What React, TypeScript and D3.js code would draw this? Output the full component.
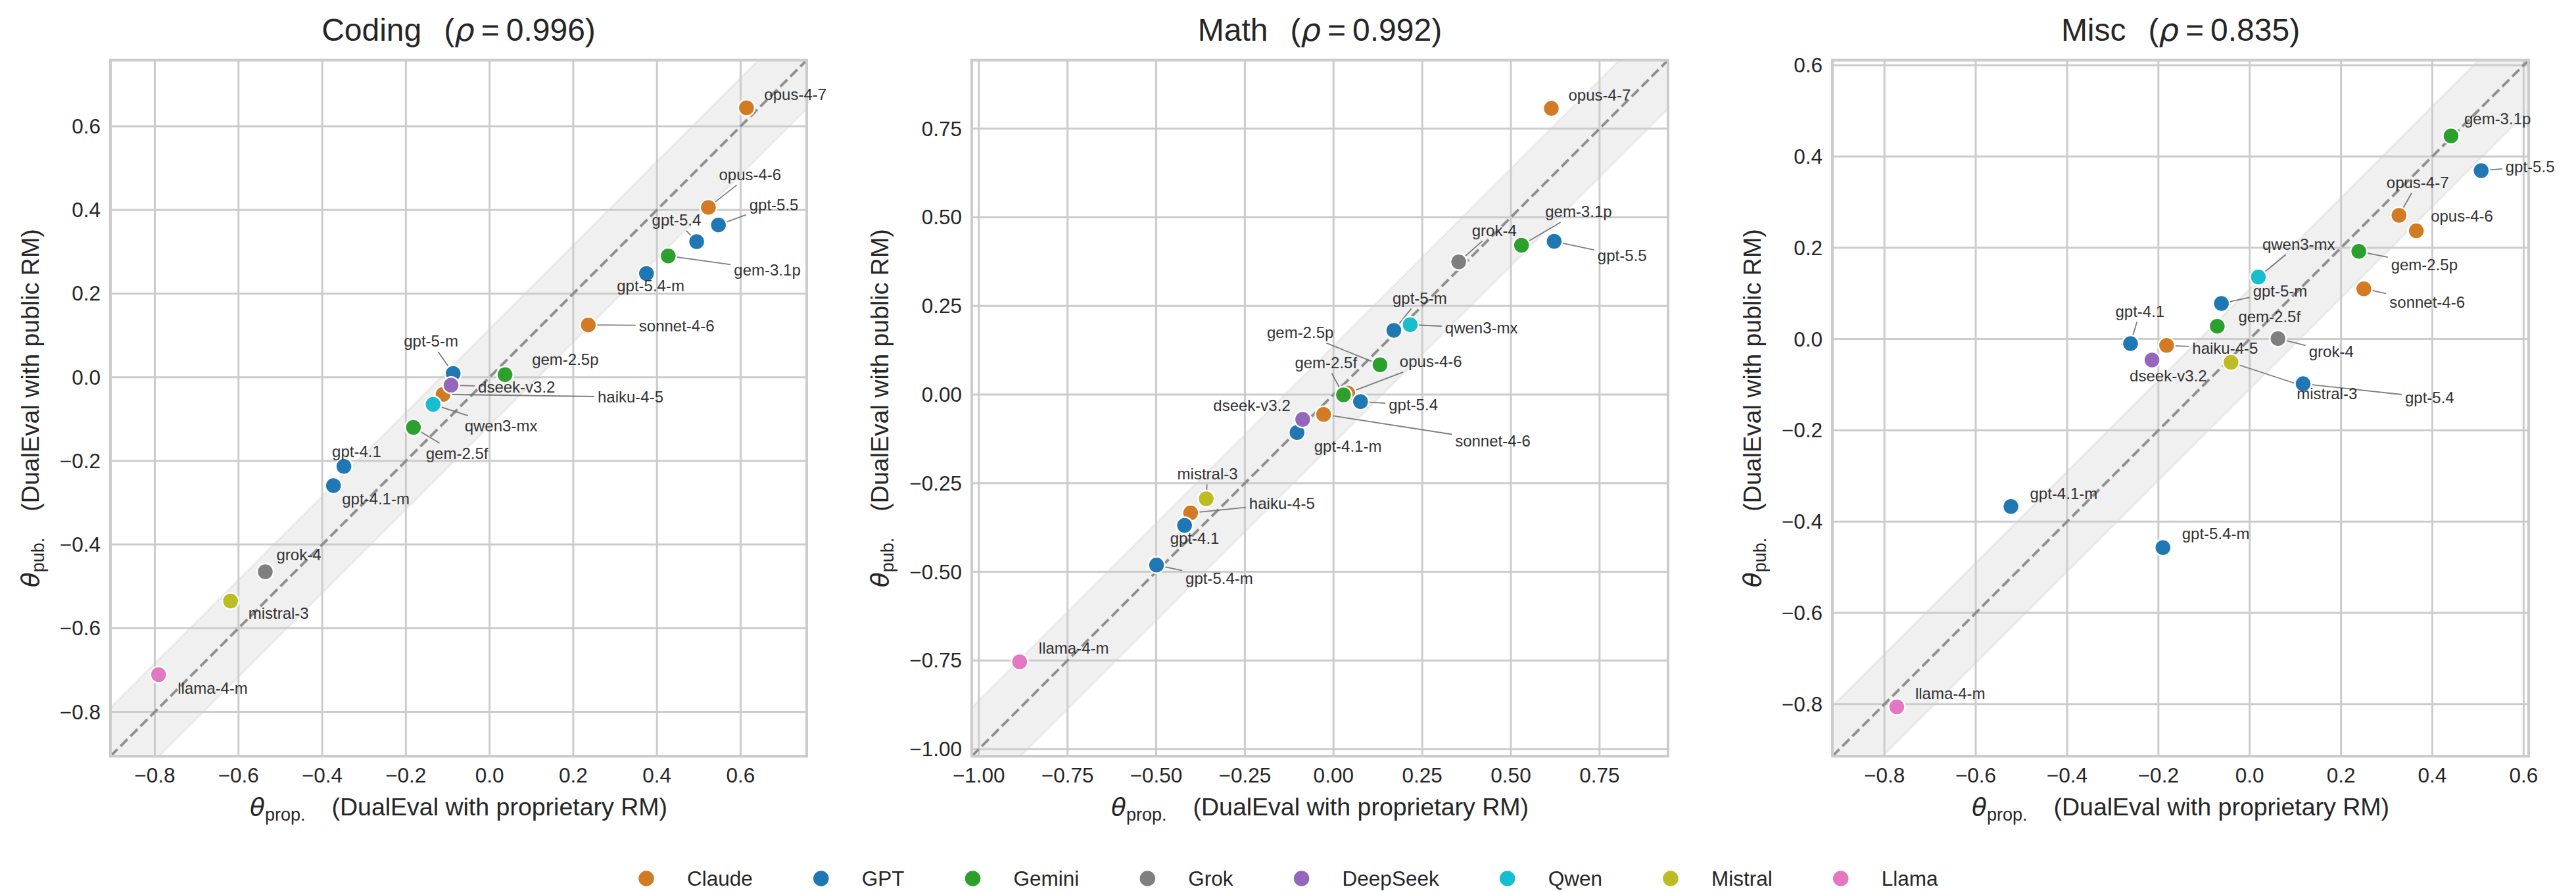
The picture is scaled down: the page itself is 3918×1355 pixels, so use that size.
import React from "react";
import * as d3 from "d3";

// ---- data ----
const FAMILIES = ["Claude", "GPT", "Gemini", "Grok", "DeepSeek", "Qwen", "Mistral", "Llama"];
const FAMILY_COLORS = ["#d37a25", "#1f77b4", "#2ca02c", "#7f7f7f", "#9467bd", "#17becf", "#bcbd22", "#e377c2"];

const MODELS = [
  "opus-4-7", "opus-4-6", "sonnet-4-6", "haiku-4-5",
  "gpt-5.5", "gpt-5.4", "gpt-5.4-m", "gpt-5-m", "gpt-4.1", "gpt-4.1-m",
  "gem-3.1p", "gem-2.5p", "gem-2.5f",
  "grok-4", "dseek-v3.2", "qwen3-mx", "mistral-3", "llama-4-m",
];
const MODEL_FAMILY = [
  "Claude", "Claude", "Claude", "Claude",
  "GPT", "GPT", "GPT", "GPT", "GPT", "GPT",
  "Gemini", "Gemini", "Gemini",
  "Grok", "DeepSeek", "Qwen", "Mistral", "Llama",
];

const PANEL_TITLES = ["Coding", "Math", "Misc"];
const PANEL_RHO = ["0.996", "0.992", "0.835"];

// theta_prop (x) and theta_pub (y), same order as MODELS
const CODING_PROP = [0.614, 0.523, 0.236, -0.111, 0.547, 0.495, 0.375, -0.087, -0.348, -0.373, 0.427, 0.037, -0.182, -0.536, -0.092, -0.135, -0.619, -0.791];
const CODING_PUB = [0.644, 0.406, 0.125, -0.041, 0.364, 0.324, 0.248, 0.009, -0.213, -0.259, 0.290, 0.006, -0.120, -0.465, -0.019, -0.065, -0.535, -0.711];
const MATH_PROP = [0.614, 0.040, -0.028, -0.403, 0.622, 0.076, -0.499, 0.170, -0.420, -0.103, 0.530, 0.131, 0.028, 0.353, -0.087, 0.216, -0.359, -0.885];
const MATH_PUB = [0.807, 0.004, -0.056, -0.334, 0.432, -0.020, -0.481, 0.181, -0.369, -0.107, 0.421, 0.084, -0.001, 0.374, -0.070, 0.197, -0.294, -0.754];
const MISC_PROP = [0.327, 0.365, 0.250, -0.182, 0.507, 0.117, -0.190, -0.062, -0.261, -0.523, 0.441, 0.239, -0.071, 0.062, -0.214, 0.019, -0.041, -0.773];
const MISC_PUB = [0.271, 0.237, 0.110, -0.014, 0.369, -0.098, -0.457, 0.078, -0.010, -0.367, 0.445, 0.192, 0.028, 0.001, -0.046, 0.136, -0.051, -0.806];

const PANEL_PROP = [CODING_PROP, MATH_PROP, MISC_PROP];
const PANEL_PUB = [CODING_PUB, MATH_PUB, MISC_PUB];

const PANEL_LIMITS = [[-0.906, 0.758], [-1.02, 0.943], [-0.914, 0.611]];
const PANEL_TICKS = [
  [-0.8, -0.6, -0.4, -0.2, 0, 0.2, 0.4, 0.6],
  [-1, -0.75, -0.5, -0.25, 0, 0.25, 0.5, 0.75],
  [-0.8, -0.6, -0.4, -0.2, 0, 0.2, 0.4, 0.6],
];
const PANEL_TICK_DIGITS = [1, 2, 1];
const BAND_HALF = [0.116, 0.137, 0.11];

// ---- layout ----
const FIG_W = 3918;
const FIG_H = 1355;
const PANEL_LEFT = [168, 1478, 2787];
const PANEL_W = 1059;
const PANEL_TOP = 91.5;
const PANEL_H = 1058.5;

// label placement: [dx to text start, dy to text middle, leader line?] in px
const CODING_LABELS = {
  "opus-4-7": [27, -20, 0], "opus-4-6": [16, -50, 1], "sonnet-4-6": [77, 1, 1], "haiku-4-5": [235, 4, 1],
  "gpt-5.5": [47, -31, 1], "gpt-5.4": [-68, -33, 1], "gpt-5.4-m": [-45, 19, 0], "gpt-5-m": [-75, -49, 1],
  "gpt-4.1": [-18, -23, 0], "gpt-4.1-m": [13, 20, 0], "gem-3.1p": [100, 21, 1], "gem-2.5p": [41, -23, 0],
  "gem-2.5f": [19, 40, 1], "grok-4": [17, -26, 0], "dseek-v3.2": [41, 3, 1], "qwen3-mx": [48, 33, 1],
  "mistral-3": [27, 19, 0], "llama-4-m": [29, 21, 0],
};
const MATH_LABELS = {
  "opus-4-7": [26, -20, 0], "opus-4-6": [79, -48, 1], "sonnet-4-6": [200, 40, 1], "haiku-4-5": [89, -14, 1],
  "gpt-5.5": [66, 22, 1], "gpt-5.4": [43, 5, 1], "gpt-5.4-m": [44, 20, 1], "gpt-5-m": [-2, -49, 1],
  "gpt-4.1": [-22, 20, 0], "gpt-4.1-m": [26, 21, 0], "gem-3.1p": [36, -51, 1], "gem-2.5p": [-172, -49, 1],
  "gem-2.5f": [-74, -49, 1], "grok-4": [20, -48, 1], "dseek-v3.2": [-136, -21, 0], "qwen3-mx": [53, 5, 1],
  "mistral-3": [-44, -38, 1], "llama-4-m": [29, -21, 0],
};
const MISC_LABELS = {
  "opus-4-7": [-19, -50, 1], "opus-4-6": [22, -22, 0], "sonnet-4-6": [39, 20, 1], "haiku-4-5": [39, 4, 1],
  "gpt-5.5": [37, -6, 1], "gpt-5.4": [155, 21, 1], "gpt-5.4-m": [29, -21, 0], "gpt-5-m": [48, -19, 1],
  "gpt-4.1": [-23, -49, 1], "gpt-4.1-m": [29, -20, 0], "gem-3.1p": [20, -26, 0], "gem-2.5p": [49, 20, 1],
  "gem-2.5f": [32, -15, 0], "grok-4": [47, 20, 1], "dseek-v3.2": [-34, 24, 0], "qwen3-mx": [6, -50, 1],
  "mistral-3": [100, 48, 1], "llama-4-m": [28, -20, 0],
};
const PANEL_LABELS = [CODING_LABELS, MATH_LABELS, MISC_LABELS];

const FONT = "Liberation Sans, Arial, sans-serif";
const MATH_FONT = "DejaVu Sans, sans-serif";
const TEXT = "#262626";

let ctx = null;
function textWidth(s, size) {
  if (!ctx && typeof document !== "undefined") ctx = document.createElement("canvas").getContext("2d");
  if (!ctx) return s.length * size * 0.55;
  ctx.font = `${size}px "Liberation Sans"`;
  return ctx.measureText(s).width;
}

const colorOf = d3.scaleOrdinal().domain(FAMILIES).range(FAMILY_COLORS);

function Panel({ index }) {
  const left = PANEL_LEFT[index];
  const [lo, hi] = PANEL_LIMITS[index];
  const x = d3.scaleLinear().domain([lo, hi]).range([left, left + PANEL_W]);
  const y = d3.scaleLinear().domain([lo, hi]).range([PANEL_TOP + PANEL_H, PANEL_TOP]);
  const fmt = d3.format(`.${PANEL_TICK_DIGITS[index]}f`);
  const ticks = PANEL_TICKS[index];
  const b = BAND_HALF[index];
  const props = PANEL_PROP[index];
  const pubs = PANEL_PUB[index];
  const labels = PANEL_LABELS[index];
  const clipId = `clip-${index}`;
  const cx = left + PANEL_W / 2;
  const cy = PANEL_TOP + PANEL_H / 2;

  const line = d3.line().x(d => x(d[0])).y(d => y(d[1]));
  const band = line([[lo, lo + b], [hi, hi + b], [hi, hi - b], [lo, lo - b]]) + "Z";
  const diag = line([[lo, lo], [hi, hi]]);

  const maxTickW = d3.max(ticks, t => textWidth(fmt(t), 31.5));
  const yLabX = left - 15 - maxTickW - 32;

  const pts = MODELS.map((m, i) => {
    const px = x(props[i]);
    const py = y(pubs[i]);
    const [dx, dy, lead] = labels[m];
    const w = textWidth(m, 24);
    const tx = px + dx;
    const ty = py + dy;
    let end = null;
    if (lead) {
      const c = [tx + w / 2, ty];
      const d = [c[0] - px, c[1] - py];
      const pad = 5;
      const L = tx - pad, R = tx + w + pad, T = ty - 11 - pad, B = ty + 11 + pad;
      const tX = d[0] === 0 ? -Infinity : d[0] > 0 ? (L - px) / d[0] : (R - px) / d[0];
      const tY = d[1] === 0 ? -Infinity : d[1] > 0 ? (T - py) / d[1] : (B - py) / d[1];
      const t = Math.max(0, Math.max(tX, tY));
      end = [px + t * d[0], py + t * d[1]];
    }
    return { m, px, py, tx, ty, end, color: colorOf(MODEL_FAMILY[i]) };
  });

  return (
    <g>
      <defs>
        <clipPath id={clipId}>
          <rect x={left} y={PANEL_TOP} width={PANEL_W} height={PANEL_H} />
        </clipPath>
      </defs>
      <rect x={left} y={PANEL_TOP} width={PANEL_W} height={PANEL_H} fill="#fff" />
      <g clipPath={`url(#${clipId})`}>
        <path d={band} fill="#808080" fillOpacity={0.12} stroke="#808080" strokeOpacity={0.1} strokeWidth={3} />
        {ticks.map(t => (
          <line key={"gx" + t} x1={x(t)} x2={x(t)} y1={PANEL_TOP} y2={PANEL_TOP + PANEL_H} stroke="#cccccc" strokeWidth={3} />
        ))}
        {ticks.map(t => (
          <line key={"gy" + t} x1={left} x2={left + PANEL_W} y1={y(t)} y2={y(t)} stroke="#cccccc" strokeWidth={3} />
        ))}
        <path d={diag} fill="none" stroke="#8f8f8f" strokeWidth={4} strokeDasharray="15 6.5" />
      </g>
      <rect x={left} y={PANEL_TOP} width={PANEL_W} height={PANEL_H} fill="none" stroke="#cccccc" strokeWidth={4} />

      {pts.filter(p => p.end).map(p => (
        <line key={"l" + p.m} x1={p.px} y1={p.py} x2={p.end[0]} y2={p.end[1]} stroke="#666" strokeOpacity={0.85} strokeWidth={1.8} />
      ))}
      {pts.map(p => (
        <circle key={"c" + p.m} cx={p.px} cy={p.py} r={12.5} fill={p.color} stroke="#fff" strokeWidth={2.5} />
      ))}
      {pts.map(p => (
        <text key={"t" + p.m} x={p.tx} y={p.ty} dy="0.35em" fontSize={24} fill="#333">{p.m}</text>
      ))}

      {ticks.map(t => (
        <text key={"xt" + t} x={x(t)} y={1190} textAnchor="middle" fontSize={31.5} fill={TEXT}>{fmt(t)}</text>
      ))}
      {ticks.map(t => (
        <text key={"yt" + t} x={left - 15} y={y(t)} dy="0.35em" textAnchor="end" fontSize={31.5} fill={TEXT}>{fmt(t)}</text>
      ))}

      <text x={cx} y={62} textAnchor="middle" fontSize={48} fill={TEXT}>
        <tspan>{PANEL_TITLES[index]}</tspan>
        <tspan dx={34}>(</tspan>
        <tspan fontFamily={MATH_FONT} fontStyle="italic">ρ</tspan>
        <tspan dx={10}>=</tspan>
        <tspan dx={10}>{PANEL_RHO[index] + ")"}</tspan>
      </text>

      <text x={cx} y={1240} textAnchor="middle" fontSize={37.5} fill={TEXT}>
        <tspan fontFamily={MATH_FONT} fontStyle="italic">θ</tspan>
        <tspan fontSize={27} dy={8}>prop.</tspan>
        <tspan dy={-8} dx={40}>(DualEval with proprietary RM)</tspan>
      </text>

      <text transform={`translate(${yLabX},${cy}) rotate(-90)`} textAnchor="middle" fontSize={37.5} fill={TEXT}>
        <tspan fontFamily={MATH_FONT} fontStyle="italic">θ</tspan>
        <tspan fontSize={27} dy={8}>pub.</tspan>
        <tspan dy={-8} dx={40}>(DualEval with public RM)</tspan>
      </text>
    </g>
  );
}

function Legend() {
  const size = 31.5;
  const r = 12.5;
  const textGap = 62;
  const colGap = 91.5;
  const items = [];
  let cur = 0;
  FAMILIES.forEach((f, i) => {
    const w = textWidth(f, size);
    items.push({ f, color: FAMILY_COLORS[i], mx: cur + r, tx: cur + r + textGap });
    cur += r + textGap + w + colGap;
  });
  const total = cur - colGap;
  const off = FIG_W / 2 - total / 2;
  const yc = 1336;
  return (
    <g>
      {items.map(it => (
        <g key={it.f}>
          <circle cx={off + it.mx} cy={yc} r={r} fill={it.color} stroke="#fff" strokeWidth={1.5} />
          <text x={off + it.tx} y={yc} dy="0.35em" fontSize={size} fill={TEXT}>{it.f}</text>
        </g>
      ))}
    </g>
  );
}

export default function App() {
  return (
    <svg
      width={FIG_W}
      height={FIG_H}
      fontFamily={FONT}
      style={{ position: "absolute", left: 0, top: 0, background: "#fff" }}
    >
      <rect width={FIG_W} height={FIG_H} fill="#fff" />
      {PANEL_TITLES.map((t, i) => <Panel key={t} index={i} />)}
      <Legend />
    </svg>
  );
}
